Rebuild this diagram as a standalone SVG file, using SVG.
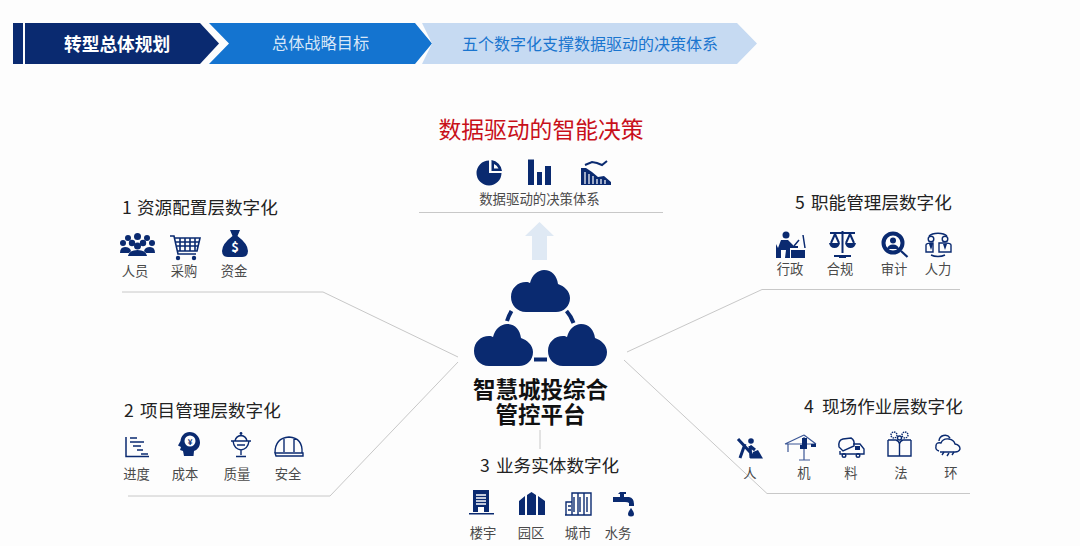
<svg xmlns="http://www.w3.org/2000/svg" width="1080" height="546" viewBox="0 0 1080 546">
<style>
text{font-family:"Noto Sans CJK SC","Noto Sans",sans-serif}
.t{font-size:17.6px;fill:#222}
.l{font-size:13.3px;fill:#4a4a4a;text-anchor:middle}
.n{fill:#0a2a70}
.o{fill:none;stroke:#0a2a70;stroke-width:1.4}
.w{fill:#fff}
.c{fill:none;stroke:#c8c8c8;stroke-width:1}
</style>
<defs>
<path id="cloud" d="M15 42C6 42 0 35 0 27C0 18 7 12 15 12C17 12 18 12.5 19 13C21 5 27 0 33 0C41 0 46 6 47 14C53 16 59 21 59 28C59 36 53 42 45 42Z"/>
</defs>
<rect width="1080" height="546" fill="#fdfdfd"/>

<g id="connectors">
<path class="c" d="M122 292H323L458 357"/>
<path class="c" d="M128 496H330L458 362"/>
<path class="c" d="M540 430V449"/>
<path class="c" d="M960 289.500H762L627 352"/>
<path class="c" d="M970 493.500H767L624 360"/>
<path class="c" d="M419 212.500H663"/>
</g>

<g id="step-1">
<rect x="13" y="23" width="10" height="41" fill="#0a2a70"/>
<path d="M25 23H200L219 43.500L200 64H25Z" fill="#0a2a70"/>
<text x="64" y="51" font-size="17.700" font-weight="700" fill="#fff">转型总体规划</text>
</g>
<g id="step-2">
<path d="M209 23H415L432 43.500L415 64H209L229 43.500Z" fill="#1474d0"/>
<text x="272" y="49" font-size="16.200" fill="#d8e7f8">总体战略目标</text>
</g>
<g id="step-3">
<path d="M422 23H737L757 43.500L737 64H422L432 43.500Z" fill="#c6daf2"/>
<text x="462" y="50" font-size="16" fill="#1a75cf">五个数字化支撑数据驱动的决策体系</text>
</g>

<g id="top-node">
<text x="541" y="138" font-size="22.800" fill="#c8101a" text-anchor="middle">数据驱动的智能决策</text>
<path class="n" d="M489 160.500A12.500 12.500 0 1 0 501.500 173H489Z"/>
<path class="n" d="M491.500 160A12.500 12.500 0 0 1 502 171H491.500ZM494 164V168.500H498.500Q497 165 494 164Z" fill-rule="evenodd"/>
<path class="n" d="M528 159.500H534V185H528ZM537 172H542V185H537ZM545 166H551V185H545Z"/>
<path class="n" d="M581 168V185H611V182L604 176L598 177L592 172L586 168Z"/>
<path d="M585 172V184M589 174V184M593 176V184M597 179V184M601 179V184M605 180V184" stroke="#fff" stroke-width="1.200" fill="none"/>
<path d="M585 165L592 162L597 163L602 165L607 161" fill="none" stroke="#0a2a70" stroke-width="2"/>
<text x="539.500" y="204" font-size="13.400" fill="#4a4a4a" text-anchor="middle">数据驱动的决策体系</text>
<path d="M539.500 222L554 236H547V260H532V236H525Z" fill="#dfe9f4"/>
</g>

<g id="center">
<use href="#cloud" class="n" x="511" y="270"/>
<use href="#cloud" class="n" x="474" y="324"/>
<use href="#cloud" class="n" x="548" y="324"/>
<path d="M511.500 311Q508.500 316 507 321M566.500 311Q571 316 573.500 323M534 359.500H547" fill="none" stroke="#0a2a70" stroke-width="4"/>
<text font-size="22.500" font-weight="700" fill="#111" text-anchor="middle"><tspan x="540.500" y="398">智慧城投综合</tspan><tspan x="540.500" y="422.500">管控平台</tspan></text>
</g>

<g id="node-1">
<text class="t" y="214"><tspan x="122">1</tspan><tspan x="137">资源配置层数字化</tspan></text>
<g class="n">
<circle cx="137.500" cy="236.500" r="3.500"/><circle cx="128" cy="238" r="3"/><circle cx="147" cy="238" r="3"/>
<circle cx="123" cy="243" r="3"/><circle cx="152" cy="243" r="3"/><circle cx="132" cy="243" r="3.200"/><circle cx="143" cy="243" r="3.200"/><circle cx="137.500" cy="246" r="3.500"/>
<path d="M120 253Q120 247 125 247Q130 247 131 251L129 253ZM155 253Q155 247 150 247Q145 247 144 251L146 253ZM128 256Q129 250 137.500 250Q146 250 147 256Z"/>
</g>
<path d="M170 236H174L178 254H196M175 238H200L197 251H178M180 238V251M185 238V251M190 238V251M195 238V251M176 242H199M177 246H198" fill="none" stroke="#0a2a70" stroke-width="1.600"/>
<circle class="n" cx="178" cy="258" r="2.200"/><circle class="n" cx="194" cy="258" r="2.200"/>
<path class="n" d="M230 230H240L237.500 236Q248 244 248 251Q248 257 242 257H228Q222 257 222 251Q222 244 232.500 236Z"/>
<text x="235" y="252" font-size="13" font-weight="700" fill="#fff" text-anchor="middle">$</text>
<text class="l" x="135" y="276">人员</text><text class="l" x="184" y="276">采购</text><text class="l" x="234" y="276">资金</text>
</g>

<g id="node-2">
<text class="t" y="417"><tspan x="124">2</tspan><tspan x="140">项目管理层数字化</tspan></text>
<path d="M126 437V456.500H149M130 438H137M130 442H144M133 446H141M137 450H143M141 454H148" fill="none" stroke="#0a2a70" stroke-width="1.500"/>
<path class="n" d="M189.500 432C195.500 432 200 437 200 442.500C200 447 197 450 194 451L193.500 456H184L183 451L180 450L181 447L178 445.500L180.500 441C181 436 184.500 432 189.500 432Z"/>
<circle class="w" cx="190" cy="441" r="5.500"/>
<text x="190" y="444.500" font-size="8" font-weight="700" fill="#0a2a70" text-anchor="middle">¥</text>
<path class="o" d="M231 441H251M233 441Q234 449 241 450Q248 449 249 441M235 441Q236 436 241 435.500Q246 436 247 441M241 450V455M236 456.500H246M237 445H245"/>
<circle class="n" cx="241" cy="433.500" r="1.400"/>
<path class="o" d="M275 453Q275 438 289 437Q303 438 302 453M275 453H303V456H276ZM284 452V438M294 452V438"/>
<text class="l" x="136.500" y="479">进度</text><text class="l" x="185" y="479">成本</text><text class="l" x="237" y="479">质量</text><text class="l" x="288" y="479">安全</text>
</g>

<g id="node-3">
<text class="t" y="472"><tspan x="480">3</tspan><tspan x="496">业务实体数字化</tspan></text>
<path class="n" d="M473 490H489V512H473Z"/>
<path d="M476 495H486M476 498H486M476 501H486M476 504H486" stroke="#fff" stroke-width="1.400"/>
<rect class="w" x="478" y="507" width="6" height="5"/>
<rect class="n" x="469" y="513" width="25" height="1.500"/>
<path class="n" d="M519 501L525 496V515H519ZM527 495L531.500 492L536 495V515H527ZM538 496L545 501V515H538Z"/>
<path class="o" d="M566 515V502H572V515ZM572 515V493H578V515ZM578 515V493H584V515M584 515V493H591V515H565M568 506H571M568 510H571M574 497V512M580 497V512M587 497V512" stroke-width="1" stroke="#4a62a0"/>
<path class="n" d="M620 492H626V494H624V497H629Q634 498 634 504V506H629V503Q628 502 625 502H613V497H620V494H618Z"/>
<path class="n" d="M631 508Q634 512 634 514A3 2.500 0 0 1 628 514Q628 512 631 508Z"/>
<text class="l" x="483" y="538">楼宇</text><text class="l" x="531" y="538">园区</text><text class="l" x="578" y="538">城市</text><text class="l" x="618" y="538">水务</text>
</g>

<g id="node-5">
<text class="t" y="209"><tspan x="795">5</tspan><tspan x="811">职能管理层数字化</tspan></text>
<circle class="n" cx="786" cy="235" r="3.500"/>
<path class="n" d="M781 240H788L794 246H798V248H790V258H785L786 250H781V258H776V244L778 248Z"/>
<path class="n" d="M791 250H805V258H791Z"/>
<path d="M794 246L799 240M803 235L805 248" fill="none" stroke="#0a2a70" stroke-width="1.500"/>
<path d="M830 233H855M842.500 231V253M834 256H851M835 234L831 243M835 234L839 243M850 234L846 243M850 234L854 243" fill="none" stroke="#0a2a70" stroke-width="2"/>
<path class="n" d="M829 243H840Q839 248 834.500 248Q830 248 829 243ZM845 243H856Q855 248 850.500 248Q846 248 845 243ZM839 255H846V258H839Z"/>
<circle cx="893" cy="243" r="9.500" fill="#fff" stroke="#0a2a70" stroke-width="4"/>
<circle class="n" cx="893" cy="240.500" r="3"/>
<path class="n" d="M887 249Q888 244.500 893 244.500Q898 244.500 899 249Z"/>
<path d="M901 251L907.500 257" stroke="#0a2a70" stroke-width="2.200"/>
<path class="o" d="M926 252V245Q926 243 933 243V252ZM939 252H951V245Q951 243 944 243H939ZM929 236A10 5 0 0 1 947 236M931 255A10 5 0 0 0 945 255" stroke-width="1.100"/>
<circle class="o" cx="931" cy="239" r="2.800" stroke-width="1.100"/><circle class="o" cx="945" cy="239" r="2.800" stroke-width="1.100"/>
<path class="n" d="M929 244H933L931 250ZM943 244H947L945 250Z"/>
<text class="l" x="790" y="274">行政</text><text class="l" x="840" y="274">合规</text><text class="l" x="894" y="274">审计</text><text class="l" x="938" y="274">人力</text>
</g>

<g id="node-4">
<text class="t" y="413"><tspan x="804">4</tspan><tspan x="822">现场作业层数字化</tspan></text>
<circle class="n" cx="751" cy="441" r="2.800"/>
<path d="M738 439L750 452M745 444L740 458M750 446L755 450M750 446L751 458" fill="none" stroke="#0a2a70" stroke-width="3"/>
<path class="n" d="M753 452L758 450L763 458.500H750Z"/>
<path d="M785 444H816M804 437V460M799 460H810M804 435L785 444M804 435L816 444M788 444V452" fill="none" stroke="#3c5796" stroke-width="1.200"/>
<path class="n" d="M802 438H807V445H802ZM811 444H816V447H811ZM800 445H807V449H800Z"/>
<path class="o" d="M839 447Q838 440 843 439L851 438Q855 440 854 446L843 451ZM853 444H860L864 449V454H840V451M840 454H864" stroke-width="1.600"/>
<path class="n" d="M855 446H860V450H855Z"/>
<circle class="o" cx="844" cy="455.500" r="1.800"/><circle class="o" cx="858" cy="455.500" r="1.800"/>
<path class="o" d="M888 440V456H911V440M888 440H896Q899 441 899.500 444V456M911 440H903Q900 441 899.500 444" stroke-width="1.500"/>
<circle class="o" cx="894" cy="435" r="3" stroke-dasharray="1.500 0.800" stroke-width="1.600"/><circle class="o" cx="905" cy="435" r="3" stroke-dasharray="1.500 0.800" stroke-width="1.600"/>
<circle class="o" cx="899.500" cy="438" r="2" stroke-width="1"/>
<path class="o" d="M939 451Q935 450 936 446Q936 442 941 443Q943 438 949 439Q954 440 955 444Q960 445 960 449Q959 452 955 452H940" stroke-width="1.200"/>
<path class="o" d="M939 441A6 6 0 0 1 950 438M942 455L944 452M947 456L949 453M952 455L954 452" stroke-width="1"/>
<text class="l" x="750" y="478">人</text><text class="l" x="804" y="478">机</text><text class="l" x="851" y="478">料</text><text class="l" x="901" y="478">法</text><text class="l" x="951" y="478">环</text>
</g>
</svg>
